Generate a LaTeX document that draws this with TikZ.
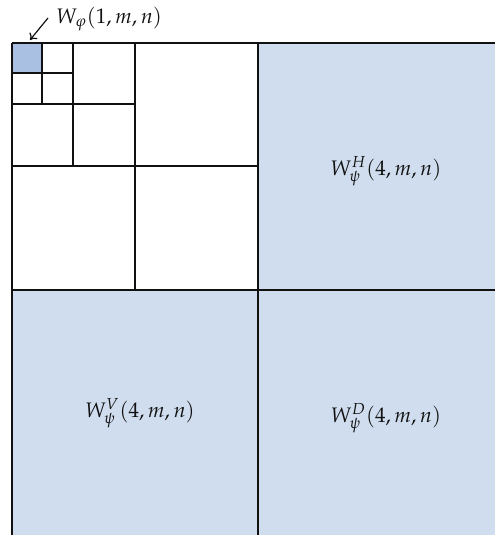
\documentclass[tikz,border=0pt]{standalone}
\usepackage{xcolor}
\usepackage{tikz}
\usepackage{mathpazo}
\usetikzlibrary{arrows.meta}
\definecolor{BandFill}{HTML}{D0DDEE}
\definecolor{ApproxFill}{HTML}{A9C0E2}
\definecolor{GridInk}{HTML}{111111}

\begin{document}
\begin{tikzpicture}[x=0.5pt,y=0.5pt]
        \useasboundingbox (0,0) rectangle (495,535);
        % detail bands of the first level
        \fill[BandFill] (258,245) rectangle (495,492);
        \fill[BandFill] (12,0) rectangle (258,245);
        \fill[BandFill] (258,0) rectangle (495,245);
        \fill[ApproxFill] (12,462) rectangle (42,492);
        % outer frame and first split
        \draw[GridInk, line width=0.75pt] (12,492) -- (495,492);
        \draw[GridInk, line width=0.9pt] (12,492) -- (12,0);
        \draw[GridInk, line width=0.8pt] (258,492) -- (258,0);
        \draw[GridInk, line width=1pt] (12,245) -- (495,245);
        % nested splits in the top left corner
        \foreach \x/\y/\b in {135/369/245,73/431/369,42/462/431} {
          \draw[GridInk, line width=1pt] (\x,492) -- (\x,\b);
          \draw[GridInk, line width=1pt] (12,\y) -- (2*\x-12,\y);
        }
        % labels
        \node[text=GridInk, font=\fontsize{10.5pt}{13pt}\selectfont] (wh) at (386,364) {$W_\psi^H(4,m,n)$};
        \node[text=GridInk, font=\fontsize{10.5pt}{13pt}\selectfont] (wv) at (140,122) {$W_\psi^V(4,m,n)$};
        \node[text=GridInk, font=\fontsize{10.5pt}{13pt}\selectfont] (wd) at (386,117) {$W_\psi^D(4,m,n)$};
        \node[text=GridInk, font=\fontsize{10.5pt}{13pt}\selectfont, anchor=west, inner sep=0pt] (wphi) at (56,516) {$W_\varphi(1,m,n)$};
        \coordinate (tail) at (48,517);
        \coordinate (corner) at (30,495);
        \draw[GridInk, line width=0.6pt, -{To[length=3pt,width=5pt]}] (tail) -- (corner);
      \end{tikzpicture}
\end{document}
